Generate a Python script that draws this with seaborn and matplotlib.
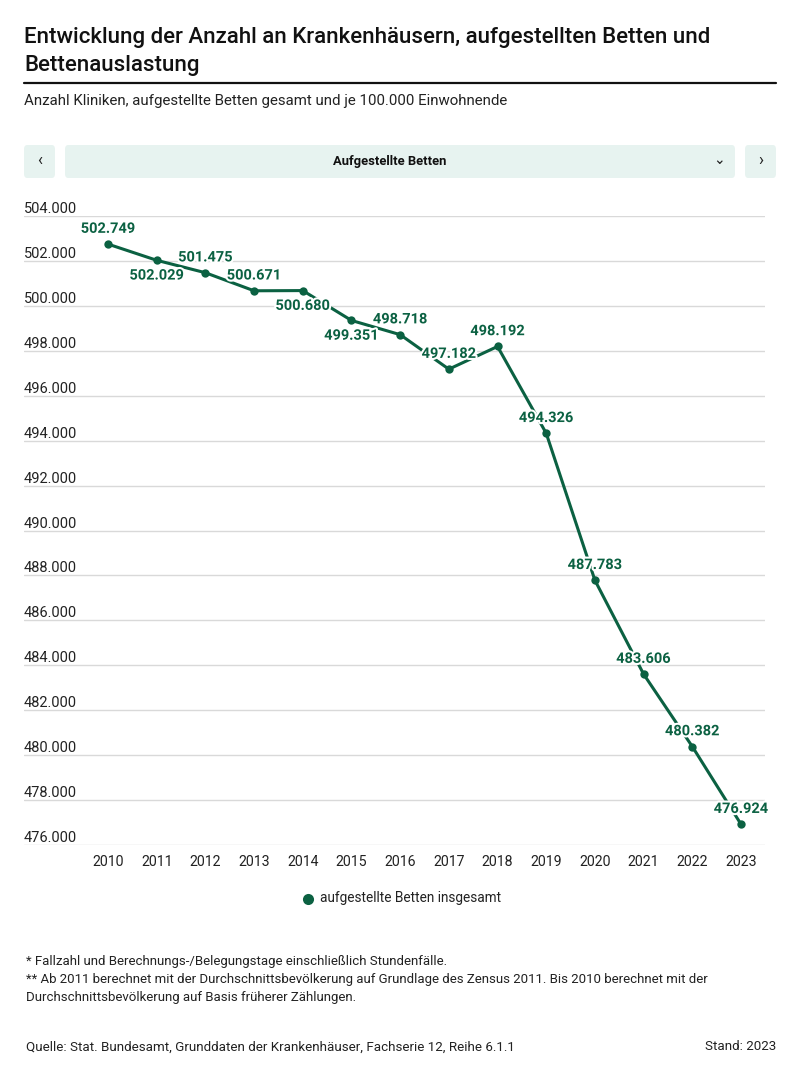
import numpy as np
import pandas as pd
import matplotlib
matplotlib.use("Agg")
import matplotlib.pyplot as plt
import matplotlib.patheffects as pe
from matplotlib.patches import FancyBboxPatch
import seaborn as sns

# Data
years = [2010, 2011, 2012, 2013, 2014, 2015, 2016, 2017, 2018, 2019, 2020, 2021, 2022, 2023]
betten = [502749, 502029, 501475, 500671, 500680, 499351, 498718, 497182, 498192,
          494326, 487783, 483606, 480382, 476924]
# label above (+1) or below (-1) the point
label_side = [1, -1, 1, 1, -1, -1, 1, 1, 1, 1, 1, 1, 1, 1]
y_ticks = list(range(476000, 504001, 2000))

GREEN = "#0b6142"
GRID = "#d9d9d9"
MINT = "#e7f3f0"

sns.set_theme(style="white")
plt.rcParams['font.family'] = ['Roboto', 'DejaVu Sans']

def fmt(v):
    return f"{v:,}".replace(",", ".")

df = pd.DataFrame({"Jahr": years, "Betten": betten})

fig = plt.figure(figsize=(8, 10.82), dpi=100)
W, H = 800, 1082

def fx(px):
    return px / W

def fy(py):
    return 1 - py / H

# header
fig.text(fx(24), fy(38), "Entwicklung der Anzahl an Krankenhäusern, aufgestellten Betten und",
         fontsize=16, fontweight="medium", va="center", ha="left", color="#111111")
fig.text(fx(24), fy(66), "Bettenauslastung",
         fontsize=16, fontweight="medium", va="center", ha="left", color="#111111")
fig.add_artist(plt.Line2D([fx(24), fx(776)], [fy(82.5), fy(82.5)], color="#111111", lw=1.6))
fig.text(fx(24), fy(101), "Anzahl Kliniken, aufgestellte Betten gesamt und je 100.000 Einwohnende",
         fontsize=10.8, va="center", ha="left", color="#222222")

# selector bar
for x0, x1 in [(24, 55), (65, 735), (745, 776)]:
    box = FancyBboxPatch((fx(x0), fy(178)), fx(x1 - x0), (178 - 145) / H,
                         boxstyle="round,pad=0,rounding_size=0.004",
                         transform=fig.transFigure, facecolor=MINT, edgecolor="none")
    fig.add_artist(box)
fig.text(fx(39.5), fy(161), "‹", fontsize=12, ha="center", va="center", color="#222222")
fig.text(fx(760.5), fy(161), "›", fontsize=12, ha="center", va="center", color="#222222")
fig.text(fx(390), fy(161), "Aufgestellte Betten", fontsize=9.4, fontweight="bold",
         ha="center", va="center", color="#111111")
fig.text(fx(719), fy(160), "⌄", fontsize=10, ha="center", va="center", color="#222222")

# chart
ax = fig.add_axes([fx(24), fy(845), fx(765 - 24), (845 - 216) / H])
sns.lineplot(data=df, x="Jahr", y="Betten", ax=ax, color=GREEN, linewidth=2.2,
             marker="o", markersize=6, markeredgewidth=0, legend=False)
ax.set_xlim(2010 - 84 / 48.7, 2023 + 24 / 48.7)
ax.set_ylim(476000, 504000)
for s in ax.spines.values():
    s.set_visible(False)
ax.set_yticks(y_ticks)
ax.yaxis.grid(True, color=GRID, linewidth=1)
ax.xaxis.grid(False)
ax.set_yticklabels([])
ax.tick_params(axis="y", length=0)
ax.set_xticks(years)
ax.set_xticklabels([str(y) for y in years], fontsize=10.2, color="#222222")
ax.tick_params(axis="x", length=0, pad=7)
ax.set_xlabel("")
ax.set_ylabel("")

for t in y_ticks:
    ax.text(0, t, fmt(t), transform=ax.get_yaxis_transform(), ha="left", va="bottom",
            fontsize=10.5, color="#222222")

for x, v, side in zip(years, betten, label_side):
    ax.annotate(fmt(v), (x, v), xytext=(0, 11 * side), textcoords="offset points",
                ha="center", va="center", fontsize=10.5, fontweight="bold", color=GREEN,
                path_effects=[pe.withStroke(linewidth=3, foreground="white")])

# legend
fig.add_artist(plt.Line2D([fx(308)], [fy(899)], marker="o", markersize=8,
                          color=GREEN, markeredgewidth=0, linestyle="none"))
fig.text(fx(320), fy(898), "aufgestellte Betten insgesamt", fontsize=9.8,
         ha="left", va="center", color="#222222")

# footnotes
fig.text(fx(26), fy(961), "* Fallzahl und Berechnungs-/Belegungstage einschließlich Stundenfälle.",
         fontsize=9.5, ha="left", va="center", color="#222222")
fig.text(fx(26), fy(980), "** Ab 2011 berechnet mit der Durchschnittsbevölkerung auf Grundlage des Zensus 2011. Bis 2010 berechnet mit der",
         fontsize=9.5, ha="left", va="center", color="#222222")
fig.text(fx(26), fy(998), "Durchschnittsbevölkerung auf Basis früherer Zählungen.",
         fontsize=9.5, ha="left", va="center", color="#222222")
fig.text(fx(26), fy(1047), "Quelle: Stat. Bundesamt, Grunddaten der Krankenhäuser, Fachserie 12, Reihe 6.1.1",
         fontsize=9.6, ha="left", va="center", color="#222222")
fig.text(fx(776), fy(1047), "Stand: 2023", fontsize=9.6, ha="right", va="center", color="#222222")

fig.savefig("out.png", dpi=100)
